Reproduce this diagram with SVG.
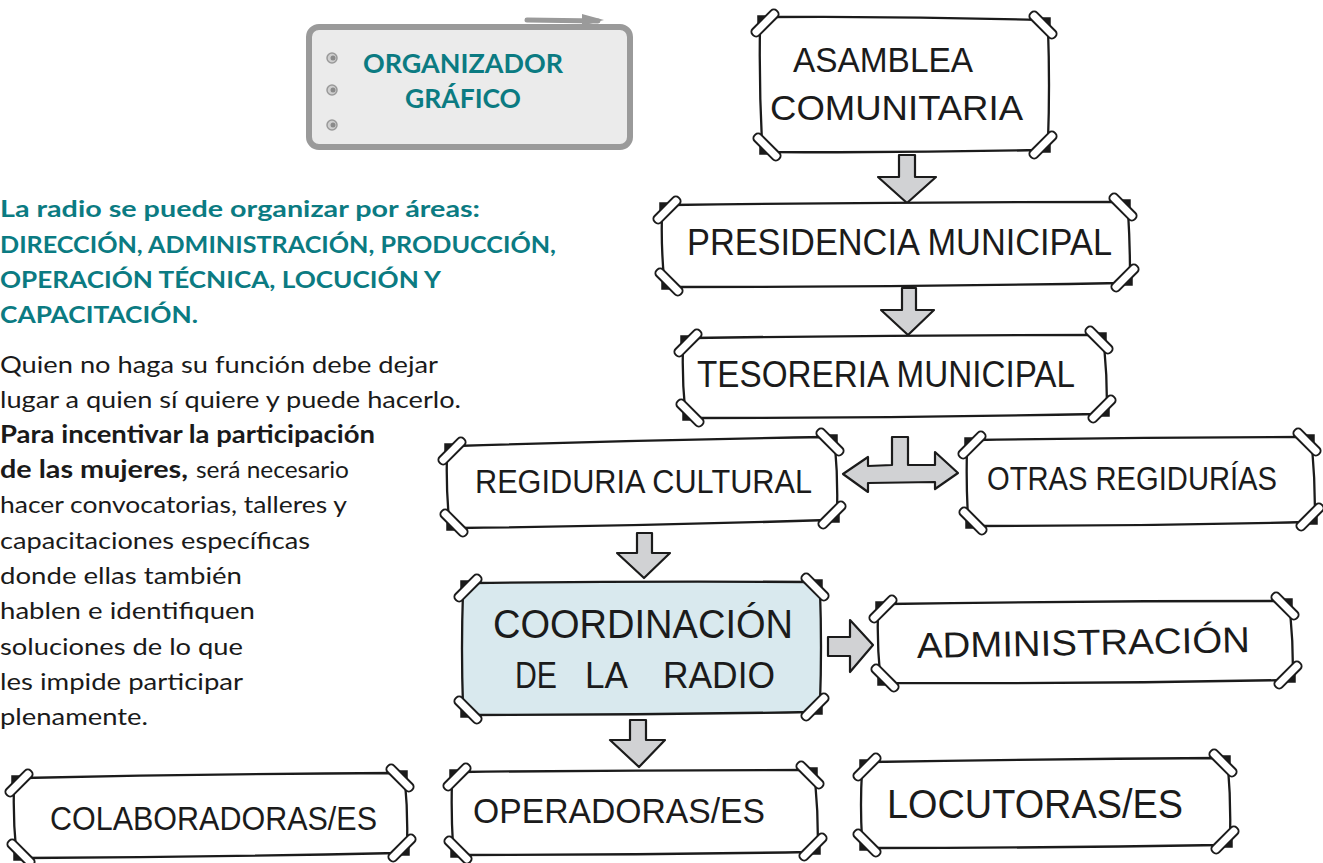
<svg xmlns="http://www.w3.org/2000/svg" xmlns:xlink="http://www.w3.org/1999/xlink" width="1323" height="863" viewBox="0 0 1323 863">
<style>
.bx{fill:#fff;stroke:#1b1b1b;stroke-width:2.3;stroke-linejoin:round}
.hd{font-family:"Liberation Sans",Arial,sans-serif;fill:#1b1b1b}
.ar{fill:#d1d2d4;stroke:#1b1b1b;stroke-width:2.2;stroke-linejoin:round}
.teal{font-family:Lato,"Open Sans",sans-serif;font-weight:700;fill:#0b7b82;font-size:23px}
.body{font-family:Lato,"Open Sans",sans-serif;font-size:24px;fill:#1a1a1a}
.b{font-weight:700}
</style>
<defs>
<g id="tp"><path d="M-7,-4 L0,-11 L7,-4 Z" fill="#1b1b1b"/><rect x="-17" y="-4.5" width="34" height="9" rx="4" fill="#fff" stroke="#1b1b1b" stroke-width="2"/></g>
</defs>
<rect width="1323" height="863" fill="#fff"/>

<g id="organizador">
<path d="M527,20 L598,21" stroke="#9a9a9a" stroke-width="5" stroke-linecap="round" fill="none"/>
<path d="M582,14 L604,20 L582,26 Z" fill="#9a9a9a"/>
<rect x="309" y="27" width="321" height="120" rx="10" fill="#ebebeb" stroke="#9a9a9a" stroke-width="6"/>
<g fill="#cfcfcf" stroke="#9a9a9a" stroke-width="1.5"><circle cx="332" cy="58" r="5"/><circle cx="332" cy="90" r="5"/><circle cx="332" cy="125" r="5"/></g>
<g fill="#8a8a8a"><circle cx="333" cy="58" r="2.5"/><circle cx="333" cy="90" r="2.5"/><circle cx="333" cy="125" r="2.5"/></g>
<text class="teal" x="363" y="73" textLength="200" lengthAdjust="spacingAndGlyphs" style="font-size:26px">ORGANIZADOR</text>
<text class="teal" x="405" y="108" textLength="116" lengthAdjust="spacingAndGlyphs" style="font-size:26px">GRÁFICO</text>
</g>

<g id="texto">
<text class="teal" x="0" y="217" textLength="480" lengthAdjust="spacingAndGlyphs">La radio se puede organizar por áreas:</text>
<text class="teal" x="0" y="253" textLength="556" lengthAdjust="spacingAndGlyphs">DIRECCIÓN, ADMINISTRACIÓN, PRODUCCIÓN,</text>
<text class="teal" x="0" y="288" textLength="441" lengthAdjust="spacingAndGlyphs">OPERACIÓN TÉCNICA, LOCUCIÓN Y</text>
<text class="teal" x="0" y="323" textLength="198" lengthAdjust="spacingAndGlyphs">CAPACITACIÓN.</text>
<text class="body" x="0" y="373" textLength="438" lengthAdjust="spacingAndGlyphs">Quien no haga su función debe dejar</text>
<text class="body" x="0" y="408" textLength="461" lengthAdjust="spacingAndGlyphs">lugar a quien sí quiere y puede hacerlo.</text>
<text class="body b" x="0" y="443" textLength="375" lengthAdjust="spacingAndGlyphs">Para incentivar la participación</text>
<text class="body" y="478"><tspan class="b" x="0" textLength="188" lengthAdjust="spacingAndGlyphs">de las mujeres,</tspan><tspan x="196" textLength="153" lengthAdjust="spacingAndGlyphs">será necesario</tspan></text>
<text class="body" x="0" y="513" textLength="347" lengthAdjust="spacingAndGlyphs">hacer convocatorias, talleres y</text>
<text class="body" x="0" y="549" textLength="310" lengthAdjust="spacingAndGlyphs">capacitaciones específicas</text>
<text class="body" x="0" y="584" textLength="242" lengthAdjust="spacingAndGlyphs">donde ellas también</text>
<text class="body" x="0" y="619" textLength="255" lengthAdjust="spacingAndGlyphs">hablen e identifiquen</text>
<text class="body" x="0" y="655" textLength="243" lengthAdjust="spacingAndGlyphs">soluciones de lo que</text>
<text class="body" x="0" y="690" textLength="243" lengthAdjust="spacingAndGlyphs">les impide participar</text>
<text class="body" x="0" y="725" textLength="148" lengthAdjust="spacingAndGlyphs">plenamente.</text>
</g>

<g id="connectors">
<path class="ar" d="M899,155 L915,155 L915,177 L936,177 L907,203 L878,177 L899,177 Z"/>
<path class="ar" d="M902,288 L916,288 L916,310 L934,310 L908,335 L881,310 L902,310 Z"/>
<path class="ar" d="M892,437 L908,437 L908,465 L935,465 L935,452 L958,473 L935,489 L935,482 L868,483 L868,492 L843,474 L868,457 L868,466 L892,465 Z"/>
<path class="ar" d="M637,533 L652,533 L652,553 L670,553 L644,578 L617,553 L637,553 Z"/>
<path class="ar" d="M828,637 L850,637 L850,620 L873,645 L850,672 L850,656 L828,656 Z"/>
<path class="ar" d="M630,720 L646,720 L646,740 L665,740 L639,767 L610,740 L630,740 Z"/>
</g>

<g id="asamblea">
<path class="bx" d="M769,17 Q904,16 1039,20 L1048,29 Q1050,85 1048,141 L1039,150 Q905,153 771,152 L762,143 Q759,85 760,26 Z"/>
<use href="#tp" transform="translate(765,23) rotate(-45)"/><use href="#tp" transform="translate(1043,25) rotate(45)"/><use href="#tp" transform="translate(1043,145) rotate(135)"/><use href="#tp" transform="translate(767,147) rotate(225)"/>
<text class="hd" x="793" y="72" style="font-size:35px" textLength="180" lengthAdjust="spacingAndGlyphs">ASAMBLEA</text>
<text class="hd" x="770" y="120" style="font-size:35px" textLength="253" lengthAdjust="spacingAndGlyphs">COMUNITARIA</text>
</g>

<g id="presidencia">
<path class="bx" d="M671,205 Q895,202 1119,202 L1128,211 Q1130,243 1130,274 L1121,283 Q897,287 673,287 L664,278 Q661,246 662,214 Z"/>
<use href="#tp" transform="translate(667,210) rotate(-45)"/><use href="#tp" transform="translate(1123,207) rotate(45)"/><use href="#tp" transform="translate(1125,278) rotate(135)"/><use href="#tp" transform="translate(669,282) rotate(225)"/>
<text class="hd" x="687" y="255" style="font-size:37px" textLength="425" lengthAdjust="spacingAndGlyphs">PRESIDENCIA MUNICIPAL</text>
</g>

<g id="tesoreria">
<path class="bx" d="M692,338 Q893,335 1095,335 L1104,344 Q1107,375 1107,405 L1098,414 Q896,418 694,418 L685,409 Q682,378 683,347 Z"/>
<use href="#tp" transform="translate(688,343) rotate(-45)"/><use href="#tp" transform="translate(1099,340) rotate(45)"/><use href="#tp" transform="translate(1102,409) rotate(135)"/><use href="#tp" transform="translate(690,413) rotate(225)"/>
<text class="hd" x="697" y="387" style="font-size:36px" textLength="378" lengthAdjust="spacingAndGlyphs">TESORERIA MUNICIPAL</text>
</g>

<g id="regiduria">
<path class="bx" d="M456,446 Q641,440 826,437 L835,446 Q838,479 837,511 L828,520 Q643,526 458,528 L449,519 Q446,487 447,455 Z"/>
<use href="#tp" transform="translate(452,451) rotate(-45)"/><use href="#tp" transform="translate(830,442) rotate(45)"/><use href="#tp" transform="translate(832,515) rotate(135)"/><use href="#tp" transform="translate(454,523) rotate(225)"/>
<text class="hd" x="475" y="493" style="font-size:34px" textLength="337" lengthAdjust="spacingAndGlyphs">REGIDURIA CULTURAL</text>
</g>

<g id="otras">
<path class="bx" d="M976,440 Q1139,437 1303,437 L1312,446 Q1315,480 1315,513 L1306,522 Q1141,526 977,526 L968,517 Q966,483 967,449 Z"/>
<use href="#tp" transform="translate(972,445) rotate(-45)"/><use href="#tp" transform="translate(1307,442) rotate(45)"/><use href="#tp" transform="translate(1310,517) rotate(135)"/><use href="#tp" transform="translate(973,521) rotate(225)"/>
<text class="hd" x="987" y="490" style="font-size:33px" textLength="290" lengthAdjust="spacingAndGlyphs">OTRAS REGIDURÍAS</text>
</g>

<g id="coordinacion">
<path class="bx" style="fill:#d9e9ee" d="M472,583 Q641,581 811,582 L820,591 Q822,647 820,703 L811,712 Q641,715 472,715 L463,706 Q461,649 463,592 Z"/>
<use href="#tp" transform="translate(468,588) rotate(-45)"/><use href="#tp" transform="translate(815,587) rotate(45)"/><use href="#tp" transform="translate(815,707) rotate(135)"/><use href="#tp" transform="translate(468,710) rotate(225)"/>
<text class="hd" x="493" y="638" style="font-size:40px" textLength="300" lengthAdjust="spacingAndGlyphs">COORDINACIÓN</text>
<text class="hd" y="688" style="font-size:37px"><tspan x="515" textLength="42" lengthAdjust="spacingAndGlyphs">DE</tspan><tspan x="585" textLength="43" lengthAdjust="spacingAndGlyphs">LA</tspan><tspan x="663" textLength="112" lengthAdjust="spacingAndGlyphs">RADIO</tspan></text>
</g>

<g id="administracion">
<path class="bx" d="M887,604 Q1084,601 1281,601 L1290,610 Q1293,641 1293,671 L1284,680 Q1086,684 889,683 L880,674 Q877,643 878,613 Z"/>
<use href="#tp" transform="translate(883,609) rotate(-45)"/><use href="#tp" transform="translate(1285,606) rotate(45)"/><use href="#tp" transform="translate(1288,675) rotate(135)"/><use href="#tp" transform="translate(885,678) rotate(225)"/>
<text class="hd" x="917" y="655" style="font-size:36px" textLength="333" lengthAdjust="spacingAndGlyphs" transform="rotate(-1 1083 652)">ADMINISTRACIÓN</text>
</g>

<g id="operadoras">
<path class="bx" d="M461,772 Q633,770 806,770 L815,779 Q818,811 818,843 L809,852 Q635,855 462,855 L453,846 Q451,813 452,781 Z"/>
<use href="#tp" transform="translate(457,777) rotate(-45)"/><use href="#tp" transform="translate(810,775) rotate(45)"/><use href="#tp" transform="translate(813,847) rotate(135)"/><use href="#tp" transform="translate(458,850) rotate(225)"/>
<text class="hd" x="473" y="823" style="font-size:35px" textLength="292" lengthAdjust="spacingAndGlyphs">OPERADORAS/ES</text>
</g>

<g id="locutoras">
<path class="bx" d="M871,762 Q1045,759 1219,758 L1228,767 Q1231,802 1230,836 L1221,845 Q1046,848 871,848 L862,839 Q860,805 862,771 Z"/>
<use href="#tp" transform="translate(867,767) rotate(-45)"/><use href="#tp" transform="translate(1223,763) rotate(45)"/><use href="#tp" transform="translate(1225,840) rotate(135)"/><use href="#tp" transform="translate(867,843) rotate(225)"/>
<text class="hd" x="887" y="818" style="font-size:40px" textLength="296" lengthAdjust="spacingAndGlyphs">LOCUTORAS/ES</text>
</g>

<g id="colaboradoras">
<path class="bx" d="M23,778 Q209,774 396,773 L405,782 Q408,813 407,844 L398,853 Q211,857 25,858 L16,849 Q13,818 14,787 Z"/>
<use href="#tp" transform="translate(19,783) rotate(-45)"/><use href="#tp" transform="translate(400,778) rotate(45)"/><use href="#tp" transform="translate(402,848) rotate(135)"/><use href="#tp" transform="translate(21,853) rotate(225)"/>
<text class="hd" x="50" y="830" style="font-size:34px" textLength="327" lengthAdjust="spacingAndGlyphs">COLABORADORAS/ES</text>
</g>
</svg>
